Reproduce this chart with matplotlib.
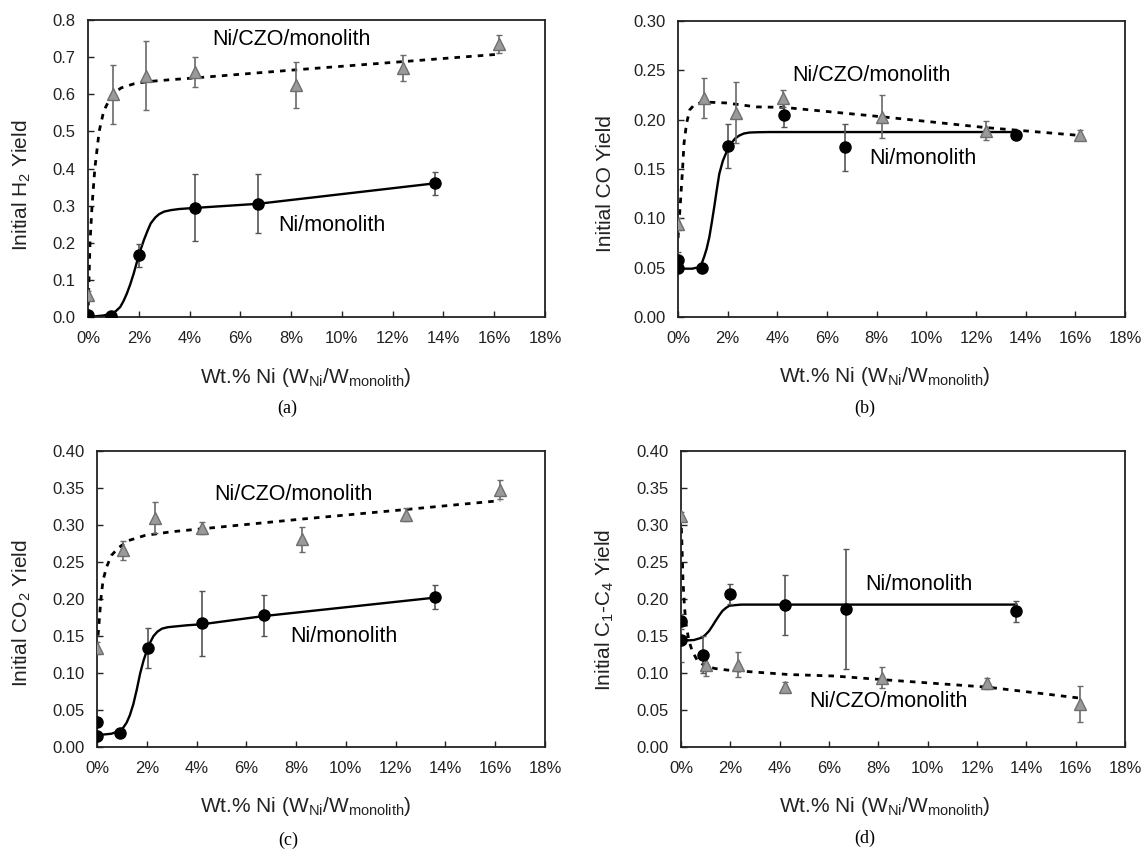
import matplotlib
matplotlib.use("Agg")
import matplotlib.pyplot as plt

plt.rcParams['font.family'] = ['Liberation Sans', 'DejaVu Sans']
plt.rcParams['mathtext.default'] = 'regular'

# x = wt.% Ni on the monolith
# (a) initial H2 yield
h2_czo_x = [0.0, 1.0, 2.3, 4.2, 8.2, 12.4, 16.2]
h2_czo_y = [0.06, 0.60, 0.65, 0.66, 0.625, 0.67, 0.735]
h2_czo_err = [0.01, 0.08, 0.093, 0.04, 0.063, 0.035, 0.025]
h2_ni_x = [0.0, 0.9, 2.0, 4.2, 6.7, 13.65]
h2_ni_y = [0.005, 0.003, 0.166, 0.295, 0.305, 0.36]
h2_ni_err = [0.003, 0.002, 0.03, 0.09, 0.08, 0.03]
h2_czo_fit_x = [0.0, 0.04, 0.08, 0.16, 0.27, 0.44, 0.62, 0.93, 1.3, 1.8, 2.33, 3.2, 4.2, 8.2, 12.4, 16.2]
h2_czo_fit_y = [0.0, 0.1, 0.2, 0.3, 0.4, 0.5, 0.555, 0.597, 0.617, 0.628, 0.634, 0.639, 0.644, 0.666, 0.688, 0.708]
h2_ni_fit_x = [0.0, 0.6, 0.93, 1.1, 1.27, 1.4, 1.53, 1.67, 1.8, 2.0, 2.2, 2.35, 2.47, 2.65, 2.8, 3.0, 3.27, 3.6, 4.23, 6.7, 13.65]
h2_ni_fit_y = [0.0, 0.004, 0.009, 0.016, 0.027, 0.043, 0.063, 0.089, 0.117, 0.166, 0.207, 0.233, 0.252, 0.268, 0.277, 0.284, 0.288, 0.291, 0.294, 0.305, 0.36]

# (b) initial CO yield
co_czo_x = [0.0, 1.06, 2.32, 4.23, 8.2, 12.4, 16.2]
co_czo_y = [0.094, 0.222, 0.207, 0.2215, 0.203, 0.189, 0.185]
co_czo_err = [0.006, 0.02, 0.031, 0.009, 0.022, 0.01, 0.005]
co_ni_x = [0.0, 0.0, 0.95, 2.0, 4.26, 6.74, 13.6]
co_ni_y = [0.0575, 0.0497, 0.0497, 0.1735, 0.2046, 0.172, 0.184]
co_ni_err = [0.008, 0.004, 0.004, 0.022, 0.012, 0.024, 0.004]
co_czo_fit_x = [0.0, 0.11, 0.18, 0.24, 0.34, 0.47, 0.65, 1.0, 1.93, 3.15, 4.26, 8.2, 12.4, 16.2]
co_czo_fit_y = [0.08, 0.122, 0.149, 0.176, 0.196, 0.21, 0.215, 0.218, 0.217, 0.213, 0.2125, 0.203, 0.192, 0.184]
co_ni_fit_x = [0.0, 0.58, 0.85, 0.95, 1.05, 1.15, 1.26, 1.36, 1.46, 1.56, 1.66, 1.8, 1.93, 2.14, 2.3, 2.47, 2.65, 2.88, 3.2, 3.7, 13.6]
co_ni_fit_y = [0.049, 0.049, 0.0507, 0.054, 0.061, 0.069, 0.081, 0.096, 0.112, 0.129, 0.145, 0.158, 0.166, 0.176, 0.181, 0.184, 0.186, 0.187, 0.1873, 0.1875, 0.1875]

# (c) initial CO2 yield
co2_czo_x = [0.0, 1.04, 2.34, 4.22, 8.25, 12.4, 16.18]
co2_czo_y = [0.134, 0.266, 0.31, 0.296, 0.281, 0.314, 0.348]
co2_czo_err = [0.008, 0.013, 0.021, 0.008, 0.017, 0.009, 0.013]
co2_ni_x = [0.0, 0.0, 0.92, 2.03, 4.22, 6.7, 13.6]
co2_ni_y = [0.034, 0.0145, 0.019, 0.134, 0.167, 0.178, 0.203]
co2_ni_err = [0.004, 0.003, 0.003, 0.027, 0.044, 0.028, 0.016]
co2_czo_fit_x = [0.0, 0.07, 0.15, 0.24, 0.38, 0.58, 0.85, 1.26, 1.93, 3.0, 4.23, 8.2, 12.4, 16.2]
co2_czo_fit_y = [0.135, 0.162, 0.198, 0.225, 0.243, 0.259, 0.269, 0.279, 0.286, 0.291, 0.295, 0.308, 0.321, 0.333]
co2_ni_fit_x = [0.0, 0.58, 0.92, 1.05, 1.19, 1.32, 1.46, 1.6, 1.73, 1.87, 2.0, 2.13, 2.27, 2.43, 2.61, 2.85, 3.15, 3.6, 4.23, 6.7, 13.6]
co2_ni_fit_y = [0.016, 0.018, 0.022, 0.026, 0.033, 0.043, 0.058, 0.078, 0.099, 0.117, 0.13, 0.141, 0.15, 0.156, 0.16, 0.162, 0.163, 0.1645, 0.166, 0.177, 0.202]

# (d) initial C1-C4 yield
hc_czo_x = [0.0, 1.0, 2.33, 4.2, 8.16, 12.39, 16.18]
hc_czo_y = [0.312, 0.111, 0.111, 0.081, 0.0935, 0.086, 0.058]
hc_czo_err = [0.005, 0.015, 0.017, 0.007, 0.014, 0.007, 0.024]
hc_ni_x = [0.0, 0.0, 0.91, 2.0, 4.23, 6.7, 13.57]
hc_ni_y = [0.17, 0.145, 0.125, 0.2067, 0.192, 0.1866, 0.1834]
hc_ni_err = [0.01, 0.03, 0.025, 0.014, 0.04, 0.081, 0.014]
hc_czo_fit_x = [0.0, 0.04, 0.08, 0.14, 0.22, 0.32, 0.45, 0.66, 1.0, 1.4, 1.89, 3.12, 4.36, 6.2, 8.2, 10.3, 12.4, 14.7, 16.2]
hc_czo_fit_y = [0.312, 0.27, 0.225, 0.189, 0.162, 0.144, 0.13, 0.117, 0.109, 0.106, 0.104, 0.101, 0.098, 0.096, 0.091, 0.086, 0.081, 0.072, 0.066]
hc_ni_fit_x = [0.0, 0.52, 0.86, 1.0, 1.14, 1.28, 1.41, 1.55, 1.68, 1.82, 1.96, 2.2, 2.44, 4.22, 13.6]
hc_ni_fit_y = [0.1437, 0.1446, 0.148, 0.152, 0.157, 0.164, 0.171, 0.178, 0.184, 0.188, 0.191, 0.1918, 0.1925, 0.1925, 0.1925]

x_ticks = [0, 2, 4, 6, 8, 10, 12, 14, 16, 18]
x_labels = ['%d%%' % v for v in x_ticks]
x_title = 'Wt.% Ni (W$_{Ni}$/W$_{monolith}$)'

panels = [
    dict(rect=[0.0769, 0.6266, 0.3995, 0.3498], ylab='Initial H$_2$ Yield', ymax=0.8, ystep=0.1, fmt='%.1f',
         czo=(h2_czo_x, h2_czo_y, h2_czo_err, h2_czo_fit_x, h2_czo_fit_y),
         ni=(h2_ni_x, h2_ni_y, h2_ni_err, h2_ni_fit_x, h2_ni_fit_y),
         czo_txt=(8.0, 0.748), ni_txt=(9.6, 0.247), ylc=(-0.144, 0.444), xlc=0.477,
         letter='(a)', lpos=(287, 408)),
    dict(rect=[0.5927, 0.6266, 0.3907, 0.3486], ylab='Initial CO Yield', ymax=0.30, ystep=0.05, fmt='%.2f',
         czo=(co_czo_x, co_czo_y, co_czo_err, co_czo_fit_x, co_czo_fit_y),
         ni=(co_ni_x, co_ni_y, co_ni_err, co_ni_fit_x, co_ni_fit_y),
         czo_txt=(7.8, 0.245), ni_txt=(9.86, 0.161), ylc=(-0.163, 0.45), xlc=0.463,
         letter='(b)', lpos=(865, 408)),
    dict(rect=[0.0848, 0.1201, 0.3916, 0.3486], ylab='Initial CO$_2$ Yield', ymax=0.40, ystep=0.05, fmt='%.2f',
         czo=(co2_czo_x, co2_czo_y, co2_czo_err, co2_czo_fit_x, co2_czo_fit_y),
         ni=(co2_ni_x, co2_ni_y, co2_ni_err, co2_ni_fit_x, co2_ni_fit_y),
         czo_txt=(7.88, 0.341), ni_txt=(9.9, 0.150), ylc=(-0.167, 0.453), xlc=0.466,
         letter='(c)', lpos=(288, 840)),
    dict(rect=[0.5953, 0.1201, 0.3881, 0.3486], ylab='Initial C$_1$-C$_4$ Yield', ymax=0.40, ystep=0.05, fmt='%.2f',
         czo=(hc_czo_x, hc_czo_y, hc_czo_err, hc_czo_fit_x, hc_czo_fit_y),
         ni=(hc_ni_x, hc_ni_y, hc_ni_err, hc_ni_fit_x, hc_ni_fit_y),
         czo_txt=(8.4, 0.061), ni_txt=(9.66, 0.220), ylc=(-0.171, 0.463), xlc=0.459,
         letter='(d)', lpos=(865, 838)),
]

fig = plt.figure(figsize=(11.44, 8.49), dpi=100)

for p in panels:
    ax = fig.add_axes(p['rect'])
    cx, cy, ce, cfx, cfy = p['czo']
    nx, ny, ne, nfx, nfy = p['ni']

    # trend curves
    ax.plot(cfx, cfy, color='black', lw=2.0, linestyle=(0, (2, 2.2)), zorder=2)
    ax.plot(nfx, nfy, color='black', lw=1.7, zorder=2)

    # data with error bars
    ax.errorbar(cx, cy, yerr=ce, fmt='none', ecolor='#6a6a6a', elinewidth=1.2, capsize=2.5, capthick=1.0, zorder=3)
    ax.plot(cx, cy, '^', ms=8, mfc='#9a9a9a', mec='#6e6e6e', mew=1.0, zorder=4)
    ax.errorbar(nx, ny, yerr=ne, fmt='none', ecolor='#555555', elinewidth=1.2, capsize=2.5, capthick=1.0, zorder=3)
    ax.plot(nx, ny, 'o', ms=8, color='black', zorder=5)

    ax.text(p['czo_txt'][0], p['czo_txt'][1], 'Ni/CZO/monolith', fontsize=15.5, ha='center', va='center')
    ax.text(p['ni_txt'][0], p['ni_txt'][1], 'Ni/monolith', fontsize=15.5, ha='center', va='center')

    ax.set_xlim(0, 18)
    ax.set_ylim(0, p['ymax'])
    ax.set_xticks(x_ticks)
    ax.set_xticklabels(x_labels)
    n = int(round(p['ymax'] / p['ystep']))
    yt = [i * p['ystep'] for i in range(n + 1)]
    ax.set_yticks(yt)
    ax.set_yticklabels([p['fmt'] % v for v in yt])
    ax.tick_params(direction='in', length=4, width=1.0, labelsize=12, colors='#222222')
    ax.tick_params(axis='x', pad=10)
    ax.tick_params(axis='y', pad=9)
    for s in ax.spines.values():
        s.set_linewidth(1.3)
        s.set_color('#222222')

    ax.set_xlabel(x_title, fontsize=15, color='#222222')
    ax.xaxis.label.set_va('center')
    ax.xaxis.set_label_coords(p['xlc'], -0.202)
    ax.set_ylabel(p['ylab'], fontsize=15, color='#222222')
    ax.yaxis.label.set_va('center')
    ax.yaxis.set_label_coords(p['ylc'][0], p['ylc'][1])

    fig.text(p['lpos'][0] / 1144, 1 - p['lpos'][1] / 849, p['letter'], family='Liberation Serif',
             fontsize=13, ha='center', va='center')

fig.savefig('out.png', dpi=100)
